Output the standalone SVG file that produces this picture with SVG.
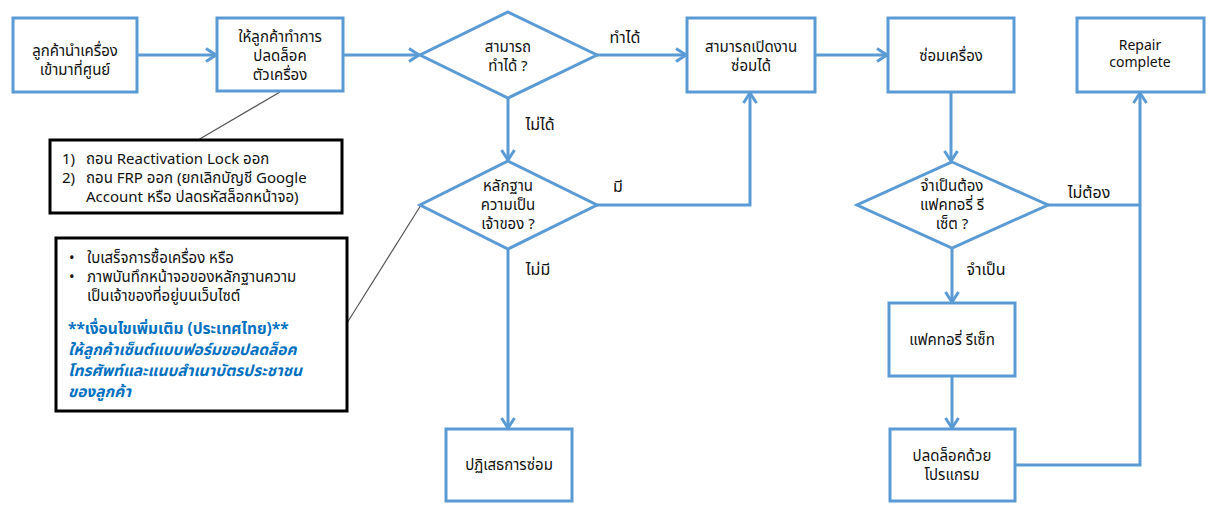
<svg xmlns="http://www.w3.org/2000/svg" width="1218" height="515" viewBox="0 0 1218 515">
<style>
.n{fill:#fff;stroke:#5B9BD5;stroke-width:3}
.c{fill:none;stroke:#5B9BD5;stroke-width:3}
.k{fill:#fff;stroke:#000;stroke-width:3}
.g{fill:none;stroke:#555;stroke-width:1.2}
text{font-family:"Noto Sans","Noto Sans Thai","DejaVu Sans",sans-serif;font-size:15px;fill:#111}
.m{text-anchor:middle}
.l{font-size:16px}
.e{font-size:14px}
.t{font-size:15px}
.b{fill:#0070C0;font-weight:bold;font-size:15.5px}
.i{fill:#0070C0;font-weight:bold;font-style:italic;font-size:15.5px}
</style>
<defs>
<marker id="a" markerUnits="userSpaceOnUse" markerWidth="14" markerHeight="16" viewBox="0 0 14 16" refX="12" refY="8" orient="auto">
<path d="M2,1.5 L12,8 L2,14.5" fill="none" stroke="#5B9BD5" stroke-width="3"/>
</marker>
</defs>
<rect width="1218" height="515" fill="#fff"/>
<g id="connectors">
<path class="c" d="M137,55 H216" marker-end="url(#a)"/>
<path class="c" d="M343,55 H419" marker-end="url(#a)"/>
<path class="c" d="M597,55 H686" marker-end="url(#a)"/>
<path class="c" d="M508,98 V160" marker-end="url(#a)"/>
<path class="c" d="M597,205 H750 V93" marker-end="url(#a)"/>
<path class="c" d="M508,249 V428" marker-end="url(#a)"/>
<path class="c" d="M815,55 H887" marker-end="url(#a)"/>
<path class="c" d="M951,92 V161" marker-end="url(#a)"/>
<path class="c" d="M1048,205 H1140"/>
<path class="c" d="M1015,465 H1140 V93" marker-end="url(#a)"/>
<path class="c" d="M952,248 V302" marker-end="url(#a)"/>
<path class="c" d="M952,376 V428" marker-end="url(#a)"/>
<path class="g" d="M198,140 L280,92"/>
<path class="g" d="M347,323 L421,205"/>
<text class="m l" x="625" y="43">ทำได้</text>
<text class="m l" x="540" y="130">ไม่ได้</text>
<text class="m l" x="618" y="192">มี</text>
<text class="m l" x="538" y="275">ไม่มี</text>
<text class="m l" x="1089" y="198">ไม่ต้อง</text>
<text class="m l" x="986" y="275">จำเป็น</text>
</g>
<g id="n1"><rect class="n" x="13" y="18" width="124" height="74"/>
<text class="m" x="75" y="56">ลูกค้านำเครื่อง</text><text class="m" x="75" y="75">เข้ามาที่ศูนย์</text></g>
<g id="n2"><rect class="n" x="217" y="18" width="126" height="73"/>
<text class="m" x="280" y="42">ให้ลูกค้าทำการ</text><text class="m" x="280" y="61">ปลดล็อค</text><text class="m" x="280" y="80">ตัวเครื่อง</text></g>
<g id="d1"><polygon class="n" points="508,12 597,55 508,98 420,55"/>
<text class="m" x="508" y="52">สามารถ</text><text class="m" x="508" y="71">ทำได้ ?</text></g>
<g id="n3"><rect class="n" x="687" y="18" width="128" height="74"/>
<text class="m" x="751" y="52">สามารถเปิดงาน</text><text class="m" x="751" y="71">ซ่อมได้</text></g>
<g id="n4"><rect class="n" x="888" y="18" width="126" height="74"/>
<text class="m" x="951" y="61">ซ่อมเครื่อง</text></g>
<g id="n5"><rect class="n" x="1077" y="18" width="127" height="74"/>
<text class="m e" x="1140" y="50">Repair</text><text class="m e" x="1140" y="67">complete</text></g>
<g id="d2"><polygon class="n" points="508,161 597,205 508,249 420,205"/>
<text class="m" x="508" y="191">หลักฐาน</text><text class="m" x="508" y="210">ความเป็น</text><text class="m" x="508" y="229">เจ้าของ ?</text></g>
<g id="d3"><polygon class="n" points="952,162 1048,205 952,248 857,205"/>
<text class="m" x="952" y="191">จำเป็นต้อง</text><text class="m" x="952" y="210">แฟคทอรี่ รี</text><text class="m" x="952" y="229">เซ็ต ?</text></g>
<g id="n6"><rect class="n" x="446" y="429" width="126" height="72"/>
<text class="m" x="509" y="470">ปฏิเสธการซ่อม</text></g>
<g id="n7"><rect class="n" x="889" y="303" width="126" height="73"/>
<text class="m" x="952" y="345">แฟคทอรี่ รีเซ็ท</text></g>
<g id="n8"><rect class="n" x="890" y="429" width="125" height="72"/>
<text class="m" x="952" y="461">ปลดล็อคด้วย</text><text class="m" x="952" y="480">โปรแกรม</text></g>
<g id="note1"><rect class="k" x="50" y="140" width="292" height="73"/>
<text class="t" x="62" y="164">1)</text><text class="t" x="86" y="164">ถอน Reactivation Lock ออก</text>
<text class="t" x="62" y="183">2)</text><text class="t" x="86" y="183">ถอน FRP ออก (ยกเลิกบัญชี Google</text>
<text class="t" x="86" y="202">Account หรือ ปลดรหัสล็อกหน้าจอ)</text></g>
<g id="note2"><rect class="k" x="56" y="238" width="291" height="173"/>
<text class="t" x="69" y="263">•</text><text class="t" x="87" y="263">ใบเสร็จการซื้อเครื่อง หรือ</text>
<text class="t" x="69" y="282">•</text><text class="t" x="87" y="282">ภาพบันทึกหน้าจอของหลักฐานความ</text>
<text class="t" x="87" y="301">เป็นเจ้าของที่อยู่บนเว็บไซต์</text>
<text class="b" x="68" y="334">**เงื่อนไขเพิ่มเติม (ประเทศไทย)**</text>
<text class="i" x="68" y="355">ให้ลูกค้าเซ็นต์แบบฟอร์มขอปลดล็อค</text>
<text class="i" x="68" y="376">โทรศัพท์และแนบสำเนาบัตรประชาชน</text>
<text class="i" x="68" y="397">ของลูกค้า</text></g>
</svg>
